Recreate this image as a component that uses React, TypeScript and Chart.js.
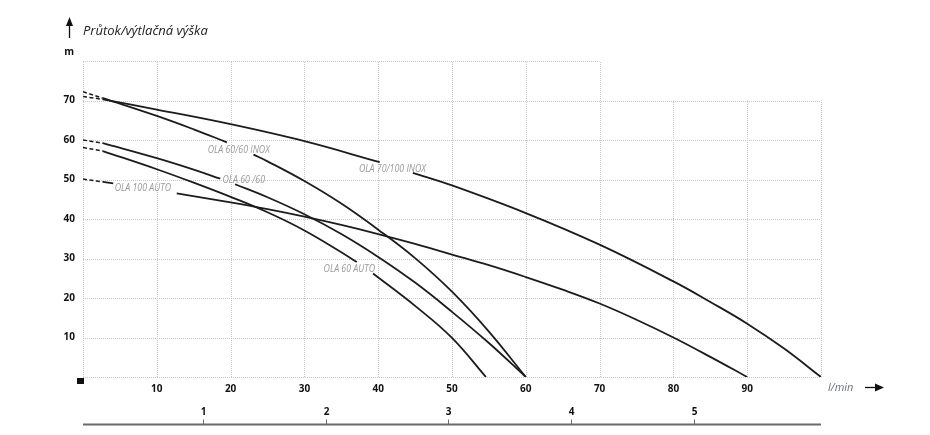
import React, { useEffect, useRef } from 'react';
import { Chart, registerables } from 'chart.js';

Chart.register(...registerables);

const FONT = '"Open Sans", "Noto Sans", "DejaVu Sans", sans-serif';

// ---------- data (x = l/min, y = m) ----------
type Pt = [number, number | null];

const inox70Dash: Pt[] = [[0, 71.0], [2.7, 70.3]];
const inox70Curve: Pt[] = [
  [2.7, 70.3], [10, 67.7], [20, 64.0], [30, 59.7], [40.2, 54.4],
  [42.5, null],
  [44.7, 51.7], [50, 48.5], [60, 41.5], [70, 33.5], [80, 24.2], [85, 19.0],
  [90, 13.5], [95, 7.2], [100, 0],
];

const inox60Dash: Pt[] = [[0, 72.2], [2.7, 70.6]];
const inox60Curve: Pt[] = [
  [2.7, 70.6], [10, 66.1], [15, 62.7], [19.5, 59.4],
  [21.3, null],
  [23.1, 56.3], [25, 54.6], [30, 49.6], [35, 43.9], [40, 37.3], [45, 30.1],
  [50, 21.6], [55, 11.5], [60, 0],
];

const ola6060Dash: Pt[] = [[0, 60.0], [2.7, 59.2]];
const ola6060Curve: Pt[] = [
  [2.7, 59.2], [10, 55.4], [15, 52.5], [18.6, 50.2],
  [19.6, null],
  [20.6, 48.8], [25, 45.5], [30, 41.2], [35, 36.2], [40, 30.4], [45, 23.9],
  [50, 16.5], [55, 8.6], [60, 0],
];

const auto60Dash: Pt[] = [[0, 58.1], [2.7, 57.2]];
const auto60Curve: Pt[] = [
  [2.7, 57.2], [10, 52.6], [15, 49.2], [20, 45.6], [25, 41.7], [30, 37.1],
  [35, 31.6], [37.1, 29.1],
  [38.2, null],
  [39.3, 26.2], [45, 18.0], [50, 9.9], [54.6, 0],
];

const auto100Dash: Pt[] = [[0, 50.1], [2.7, 49.4]];
const auto100Curve: Pt[] = [
  [2.7, 49.4], [4.1, 49.0],
  [8.4, null],
  [12.7, 46.5], [20, 44.2], [25, 42.5], [30, 40.6], [35, 38.5], [40, 36.2],
  [45, 33.7], [50, 31.0], [55, 28.3], [60, 25.3], [65, 22.1], [70, 18.6],
  [75, 14.5], [80, 10.0], [85, 5.1], [90, 0],
];

const curveLabels = ['OLA 60/60 INOX', 'OLA 60 /60', 'OLA 100 AUTO', 'OLA 70/100 INOX', 'OLA 60 AUTO'];
const curveLabelX = [16.9, 18.9, 4.3, 37.4, 32.6];
const curveLabelY = [57.5, 49.9, 47.8, 52.7, 27.3];

const xGridValues = [0, 10, 20, 30, 40, 50, 60, 70, 80, 90, 100];
const yGridValues = [0, 10, 20, 30, 40, 50, 60, 70, 80];
const m3hTicks = [1, 2, 3, 4, 5];

const titleText = 'Průtok/výtlačná výška';
const yUnit = 'm';
const xUnit = 'l/min';

const toPts = (a: Pt[]) => a.map(([x, y]) => ({ x, y }));

const solid = (d: Pt[]) => ({
  data: toPts(d),
  borderColor: '#1c1c1c',
  borderWidth: 1.8,
  pointRadius: 0,
  fill: false,
  tension: 0.4,
  spanGaps: false,
});
const dashed = (d: Pt[]) => ({
  data: toPts(d),
  borderColor: '#1c1c1c',
  borderWidth: 1.5,
  borderDash: [4, 2.5],
  pointRadius: 0,
  fill: false,
  tension: 0,
});

const gridPlugin = {
  id: 'customGrid',
  beforeDatasetsDraw(chart: any) {
    const { ctx, scales } = chart;
    const x = scales.x, y = scales.y;
    ctx.save();
    ctx.strokeStyle = '#c8c8c8';
    ctx.lineWidth = 1;
    ctx.setLineDash([1, 1]);
    yGridValues.forEach((v) => {
      const py = Math.round(y.getPixelForValue(v)) + 0.5;
      const xEnd = v > 70 ? 70 : 100;
      ctx.beginPath();
      ctx.moveTo(x.getPixelForValue(0), py);
      ctx.lineTo(x.getPixelForValue(xEnd), py);
      ctx.stroke();
    });
    xGridValues.forEach((v) => {
      const px = Math.round(x.getPixelForValue(v)) + 0.5;
      const yEnd = v > 70 ? 70 : 80;
      ctx.beginPath();
      ctx.moveTo(px, y.getPixelForValue(0));
      ctx.lineTo(px, y.getPixelForValue(yEnd));
      ctx.stroke();
    });
    ctx.restore();
  },
};

const decoPlugin = {
  id: 'deco',
  afterDraw(chart: any) {
    const { ctx, scales, chartArea } = chart;
    const x = scales.x, y = scales.y, x2 = scales.x2;
    ctx.save();
    // title + up arrow
    ctx.fillStyle = '#222';
    ctx.font = `italic 13px ${FONT}`;
    ctx.textBaseline = 'middle';
    ctx.textAlign = 'left';
    ctx.fillText(titleText, chartArea.left, 31);
    ctx.strokeStyle = '#111';
    ctx.lineWidth = 1.3;
    ctx.beginPath();
    ctx.moveTo(69.5, 38);
    ctx.lineTo(69.5, 24);
    ctx.stroke();
    ctx.fillStyle = '#111';
    ctx.beginPath();
    ctx.moveTo(69.5, 17);
    ctx.lineTo(66, 26);
    ctx.lineTo(73, 26);
    ctx.closePath();
    ctx.fill();
    // y unit
    ctx.font = `bold 10px ${FONT}`;
    ctx.textAlign = 'right';
    ctx.fillText(yUnit, 74, 52);
    // origin marker
    ctx.fillRect(chartArea.left - 6, chartArea.bottom + 1, 7, 6);
    // x unit + arrow
    ctx.font = `italic 11px ${FONT}`;
    ctx.fillStyle = '#6a6f86';
    ctx.textAlign = 'left';
    ctx.fillText(xUnit, chartArea.right + 7, 388);
    ctx.strokeStyle = '#111';
    ctx.beginPath();
    ctx.moveTo(865, 387.5);
    ctx.lineTo(877, 387.5);
    ctx.stroke();
    ctx.fillStyle = '#111';
    ctx.beginPath();
    ctx.moveTo(884, 387.5);
    ctx.lineTo(875, 383.5);
    ctx.lineTo(875, 391.5);
    ctx.closePath();
    ctx.fill();
    // secondary axis (m3/h)
    const axisY = 424.5;
    ctx.strokeStyle = '#6b6b6b';
    ctx.lineWidth = 2;
    ctx.beginPath();
    ctx.moveTo(chartArea.left, axisY);
    ctx.lineTo(chartArea.right, axisY);
    ctx.stroke();
    ctx.lineWidth = 1;
    ctx.font = `bold 10px ${FONT}`;
    ctx.fillStyle = '#111';
    ctx.textAlign = 'center';
    m3hTicks.forEach((v) => {
      const px = Math.round(x2.getPixelForValue(v)) + 0.5;
      ctx.beginPath();
      ctx.moveTo(px, axisY - 5);
      ctx.lineTo(px, axisY);
      ctx.stroke();
      ctx.fillText(String(v), px, 412);
    });
    // curve labels
    ctx.font = `italic 10px ${FONT}`;
    ctx.fillStyle = '#9a9a9e';
    ctx.textAlign = 'left';
    curveLabels.forEach((t, i) => {
      ctx.save();
      ctx.translate(x.getPixelForValue(curveLabelX[i]), y.getPixelForValue(curveLabelY[i]));
      ctx.scale(0.88, 1);
      ctx.fillText(t, 0, 0);
      ctx.restore();
    });
    ctx.restore();
  },
};

export default function App() {
  const ref = useRef<HTMLCanvasElement>(null);
  useEffect(() => {
    if (!ref.current) return;
    const tickFont = { family: FONT, size: 10, weight: 'bold' as const };
    const chart = new Chart(ref.current, {
      type: 'line',
      data: {
        datasets: [
          dashed(inox70Dash), solid(inox70Curve),
          dashed(inox60Dash), solid(inox60Curve),
          dashed(ola6060Dash), solid(ola6060Curve),
          dashed(auto60Dash), solid(auto60Curve),
          dashed(auto100Dash), solid(auto100Curve),
        ] as any,
      },
      options: {
        responsive: false,
        animation: false,
        devicePixelRatio: 1,
        layout: { padding: { left: 0, top: 61, right: 109, bottom: 0 } },
        plugins: { legend: { display: false }, tooltip: { enabled: false } },
        scales: {
          x: {
            type: 'linear',
            min: 0,
            max: 100,
            afterFit: (s: any) => { s.height = 58; },
            grid: { display: false, drawTicks: false },
            border: { display: false },
            ticks: {
              stepSize: 10,
              padding: 6,
              autoSkip: false,
              maxRotation: 0,
              color: '#111',
              font: tickFont,
              callback: (v: any) => (v === 0 || v === 100 ? '' : String(v)),
            },
          },
          x2: {
            type: 'linear',
            axis: 'x',
            position: 'bottom',
            display: false,
            min: 0.02,
            max: 6.04,
          },
          y: {
            type: 'linear',
            min: 0,
            max: 80,
            afterFit: (s: any) => { s.width = 83; },
            grid: { display: false, drawTicks: false },
            border: { display: false },
            ticks: {
              stepSize: 10,
              padding: 8,
              color: '#111',
              font: tickFont,
              callback: (v: any) => (v === 0 || v === 80 ? '' : String(v)),
            },
          },
        } as any,
      },
      plugins: [gridPlugin, decoPlugin],
    });
    return () => chart.destroy();
  }, []);
  return (
    <div style={{ position: 'absolute', left: 0, top: 0, width: 930, height: 435, background: '#fff' }}>
      <canvas ref={ref} width={930} height={435} style={{ display: 'block' }} />
    </div>
  );
}
